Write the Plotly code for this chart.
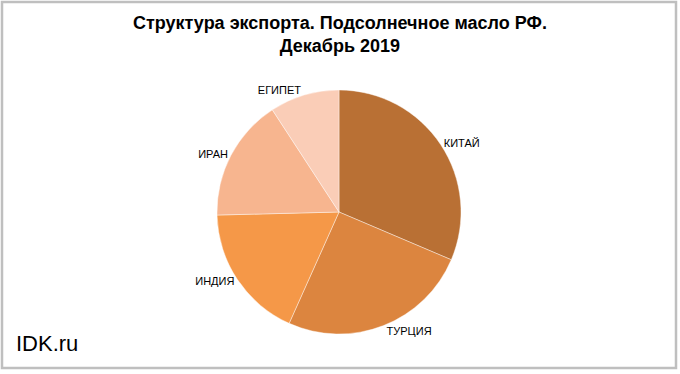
import plotly.graph_objects as go

countries = ["КИТАЙ", "ТУРЦИЯ", "ИНДИЯ", "ИРАН", "ЕГИПЕТ"]
shares = [31.4, 25.3, 17.9, 16.2, 9.2]
colors = ["#B97034", "#DC853F", "#F59848", "#F7B58F", "#FACDB7"]
title_text = "<b>Структура экспорта. Подсолнечное масло РФ.<br>Декабрь 2019</b>"
watermark = "IDK.ru"

W, H = 680, 374

fig = go.Figure(go.Pie(
    labels=countries,
    values=shares,
    sort=False,
    direction="clockwise",
    rotation=0,
    marker=dict(colors=colors, line=dict(color="rgba(255,255,255,0.6)", width=0.7)),
    textposition="outside",
    texttemplate="%{label}",
    textfont=dict(family="Liberation Sans, Arial", size=11, color="#000000"),
    showlegend=False,
    hoverinfo="label+percent",
    domain=dict(x=[217 / W, 461 / W], y=[(H - 334) / H, (H - 90) / H]),
))

fig.update_layout(
    width=W, height=H,
    margin=dict(l=0, r=0, t=0, b=0),
    paper_bgcolor="white",
    plot_bgcolor="white",
    shapes=[dict(
        type="rect", xref="paper", yref="paper",
        x0=2 / W, x1=676 / W, y0=(H - 368) / H, y1=(H - 2) / H,
        line=dict(color="#BFBFBF", width=2.5), fillcolor="rgba(0,0,0,0)",
    )],
    annotations=[
        dict(
            text=title_text, xref="paper", yref="paper",
            x=340 / W, y=(H - 11) / H, xanchor="center", yanchor="top",
            showarrow=False, align="center",
            font=dict(family="Liberation Sans, Arial", size=18, color="#000000"),
        ),
        dict(
            text=watermark, xref="paper", yref="paper",
            x=14 / W, y=(H - 343) / H, xanchor="left", yanchor="middle",
            showarrow=False,
            font=dict(family="Liberation Sans, Arial", size=22, color="#000000"),
        ),
    ],
)

fig.write_html(
    "out.html",
    config={"displayModeBar": False},
    post_script="document.body.style.margin='0';document.body.style.overflow='hidden';",
)
